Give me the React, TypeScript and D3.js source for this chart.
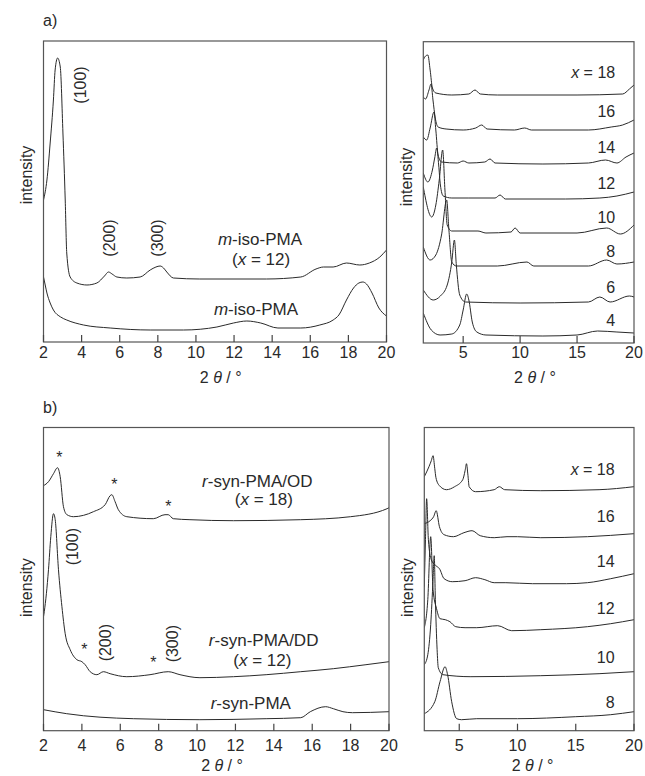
import React from "react"
import * as d3 from "d3"

type Pt = [number, number]

// ---- panel a) left : m-iso-PMA ----
const isoX12Curve: Pt[] = [
	[2.0, 142], [2.18, 162], [2.35, 199], [2.52, 242], [2.61, 272], [2.74, 284],
	[2.88, 275], [3.02, 209], [3.14, 142], [3.22, 89], [3.4, 65], [3.75, 59],
	[4.28, 57], [4.8, 59], [5.2, 66], [5.41, 70], [5.6, 68], [5.85, 65], [6.37, 64],
	[7.07, 65], [7.6, 72], [7.9, 75], [8.12, 76], [8.3, 74], [8.47, 70], [8.82, 64],
	[10.2, 63], [13.7, 63], [15.5, 65], [16.3, 73], [16.7, 75], [17.2, 75],
	[17.9, 79], [18.6, 77], [19.1, 79], [19.65, 85], [20, 92],
]
const isoCurve: Pt[] = [
	[2.0, 65], [2.09, 57], [2.18, 49], [2.35, 39], [2.52, 32], [2.9, 25], [3.22, 22],
	[4.1, 17], [5.5, 14], [7.6, 12], [9.35, 12], [11.1, 15], [11.97, 19], [12.67, 21],
	[13.4, 19], [14.3, 14], [15.5, 14], [16.5, 17], [17.2, 22], [17.5, 27], [17.9, 42],
	[18.27, 54], [18.55, 59], [18.76, 60], [18.95, 58], [19.24, 49], [19.6, 34], [20, 26],
]

// ---- panel a) right : x = 18 ... 4 ----
const aX18: Pt[] = [
	[1.5, 283], [1.7, 287], [1.9, 288], [2.1, 273], [2.3, 255], [2.6, 250], [4.0, 248],
	[5.5, 249], [6.04, 253], [6.5, 249], [8, 248], [15, 248], [19.0, 249], [19.6, 254], [20, 258],
]
const aX16: Pt[] = [
	[1.5, 246], [1.7, 244], [2.0, 253], [2.18, 259], [2.35, 243], [2.55, 225], [2.8, 216],
	[3.5, 214], [5, 213], [6.1, 215], [6.63, 218], [7.1, 214], [9.5, 213], [10.4, 215],
	[11, 213], [16, 213], [18, 216], [19, 218], [20, 223],
]
const aX14: Pt[] = [
	[1.5, 206], [1.8, 203], [2.1, 215], [2.44, 231], [2.6, 213], [2.8, 188], [3.1, 181],
	[4.5, 180], [5.0, 182], [5.5, 180], [6.9, 181], [7.36, 184], [7.8, 180], [12, 179],
	[16, 180], [17.5, 183], [18.5, 180], [19.3, 186], [20, 190],
]
const aX12: Pt[] = [
	[1.5, 170], [1.9, 161], [2.3, 173], [2.5, 185], [2.68, 195], [2.85, 178], [3.0, 158],
	[3.25, 147], [4, 145], [5.5, 145], [7.8, 145], [8.24, 148], [8.7, 144], [14, 144],
	[17, 145], [18.5, 147], [20, 151],
]
const aX10: Pt[] = [
	[1.5, 156], [2.24, 126], [2.6, 138], [2.9, 163], [3.2, 193], [3.4, 153], [3.6, 118],
	[4.0, 112], [6.3, 112], [7, 110], [9.2, 111], [9.56, 115], [10, 110], [15, 110],
	[17.6, 115], [18.8, 109], [20, 118],
]
const aX8: Pt[] = [
	[1.5, 96], [2.1, 83], [2.6, 88], [3.1, 108], [3.55, 143], [3.75, 113], [4.0, 81],
	[4.4, 77], [8, 77], [10.6, 81], [11.2, 77], [16, 77], [17.6, 83], [18.5, 79], [20, 81],
]
const aX6: Pt[] = [
	[1.5, 53], [2.37, 43], [3.0, 47], [3.6, 58], [4.0, 81], [4.23, 103], [4.4, 78],
	[4.7, 48], [5.2, 41], [10, 40], [16, 41], [17, 46], [17.9, 41], [19.6, 47], [20, 46],
]
const aX4: Pt[] = [
	[1.5, 30], [2.2, 13], [2.97, 8], [4.0, 9], [4.7, 18], [5.0, 33], [5.31, 49], [5.5, 43],
	[5.8, 21], [6.2, 11], [7, 8], [12, 7], [15, 8], [16.8, 12], [18.5, 11], [20, 10],
]
const aRightLabels = ["x = 18", "16", "14", "12", "10", "8", "6", "4"]
const aRightLabelY = [265, 226, 190, 154, 120, 86, 50, 17]

// ---- panel b) left : r-syn-PMA ----
const odCurve: Pt[] = [
	[2.0, 245], [2.26, 249], [2.52, 257], [2.73, 263], [2.87, 254], [3.04, 224],
	[3.22, 216], [3.56, 214], [4.6, 219], [5.21, 226], [5.47, 235], [5.56, 236],
	[5.73, 229], [5.9, 221], [6.34, 214], [7.72, 212], [8.33, 216], [8.5, 216],
	[8.76, 212], [9.63, 211], [11.9, 210], [15.4, 211], [18, 214], [19.9, 222], [20, 223],
]
const ddCurve: Pt[] = [
	[2.0, 114], [2.04, 119], [2.26, 161], [2.38, 194], [2.52, 217], [2.61, 211],
	[2.78, 161], [2.96, 124], [3.13, 97], [3.39, 81], [3.74, 71], [4.0, 69], [4.17, 66],
	[4.43, 59], [4.78, 56], [5.12, 59], [5.47, 57], [6.34, 54], [7.55, 56], [8.5, 59],
	[9.11, 56], [10.15, 53], [11.9, 54], [13.6, 56], [15.4, 59], [17.1, 62], [18.8, 66], [20, 69],
]
const synCurve: Pt[] = [
	[2, 21], [3.21, 17], [6.68, 12], [10.15, 11], [13.6, 12], [15.4, 13], [15.9, 19],
	[16.7, 24], [17.1, 22], [17.6, 19], [18.1, 18], [20, 19],
]

// ---- panel b) right : x = 18 ... 8 ----
const bX18: Pt[] = [
	[2.0, 254], [2.4, 264], [2.6, 270], [2.75, 275], [2.9, 262], [3.0, 253], [3.3, 245],
	[3.9, 241], [4.6, 244], [5.3, 251], [5.5, 260], [5.62, 267], [5.75, 255], [5.85, 244],
	[6.4, 239], [8.0, 241], [8.44, 244], [8.9, 241], [12, 240], [17, 241], [20, 244],
]
const bX16: Pt[] = [
	[2.0, 207], [2.5, 210], [2.8, 214], [3.02, 220], [3.3, 204], [3.7, 196], [4.5, 194],
	[5.4, 198], [6.1, 200], [6.8, 195], [8, 193], [9.1, 194], [10, 194], [12, 193],
	[16, 194], [20, 197],
]
const bX14: Pt[] = [
	[2.0, 144], [2.1, 191], [2.2, 232], [2.35, 191], [2.6, 171], [3.0, 165], [3.3, 162],
	[3.7, 152], [4.4, 149], [5.5, 150], [6.4, 153], [7.2, 151], [8.0, 148], [9.0, 148],
	[11.3, 147], [14.2, 147], [16, 148], [18, 152], [20, 157],
]
const bX12: Pt[] = [
	[2.0, 103], [2.3, 131], [2.55, 194], [2.75, 141], [3.05, 122], [3.35, 112], [3.8, 111],
	[4.2, 109], [4.7, 104], [5.5, 103], [6.5, 103], [8.3, 105], [9.5, 100], [12, 101],
	[16, 104], [18, 107], [20, 111],
]
const bX10: Pt[] = [
	[2.0, 66], [2.3, 76], [2.55, 106], [2.75, 151], [2.85, 175], [2.95, 131], [3.1, 81],
	[3.2, 63], [3.6, 56], [6, 54], [12, 55], [17, 57], [20, 59],
]
const bX8: Pt[] = [
	[2.0, 17], [2.9, 29], [3.35, 49], [3.78, 64], [4.0, 56], [4.35, 29], [4.78, 12],
	[5.2, 11], [6.5, 12], [10, 12], [15, 14], [18, 16], [20, 19],
]
const bRightLabels = ["x = 18", "16", "14", "12", "10", "8"]
const bRightLabelY = [256, 209, 164, 117, 68, 23]

const leftTicks = [2, 4, 6, 8, 10, 12, 14, 16, 18, 20]
const rightTicks = [5, 10, 15, 20]

const FONT = "'Liberation Sans', Arial, Helvetica, sans-serif"
const INK = "#2a2a2a"

type Note = {
	x: number
	y: number
	text: React.ReactNode
	rotate?: boolean
	anchor?: string
	size?: number
}

type Geom = { left: number; right: number; top: number; bottom: number }

function Panel({
	g,
	xDomain,
	ticks,
	tickLen,
	tickDy,
	titleDy,
	curves,
	notes,
	intensityY,
}: {
	g: Geom
	xDomain: [number, number]
	ticks: number[]
	tickLen: number
	tickDy: number
	titleDy: number
	curves: Pt[][]
	notes: Note[]
	intensityY: number
}) {
	const x = d3.scaleLinear().domain(xDomain).range([g.left, g.right])
	const y = d3
		.scaleLinear()
		.domain([0, g.bottom - g.top])
		.range([g.bottom, g.top])
	const line = d3
		.line<Pt>()
		.x((d) => x(d[0]))
		.y((d) => y(d[1]))
		.curve(d3.curveMonotoneX)

	return (
		<g fontFamily={FONT} fill={INK}>
			<defs>
				<clipPath id={`clip-${g.left}-${g.top}`}>
					<rect x={g.left} y={g.top} width={g.right - g.left} height={g.bottom - g.top} />
				</clipPath>
			</defs>
			<g clipPath={`url(#clip-${g.left}-${g.top})`}>
				{curves.map((c, i) => (
					<path key={i} d={line(c) || ""} fill="none" stroke={INK} strokeWidth={1} />
				))}
			</g>
			<rect
				x={g.left}
				y={g.top}
				width={g.right - g.left}
				height={g.bottom - g.top}
				fill="none"
				stroke="#555"
				strokeWidth={1.2}
			/>
			{ticks.map((t) => (
				<g key={t}>
					<line x1={x(t)} x2={x(t)} y1={g.bottom} y2={g.bottom - tickLen} stroke="#444" strokeWidth={1.2} />
					<text x={x(t)} y={g.bottom + tickDy} textAnchor="middle" fontSize={16}>
						{t}
					</text>
				</g>
			))}
			<text x={x(11.3)} y={g.bottom + titleDy} textAnchor="middle" fontSize={16} style={{ whiteSpace: "pre" }}>
				<tspan>{"2 "}</tspan>
				<tspan fontStyle="italic">θ</tspan>
				<tspan>{" / °"}</tspan>
			</text>
			<text
				transform={`translate(${g.left - 17},${y(intensityY)}) rotate(-90)`}
				textAnchor="middle"
				dominantBaseline="central"
				fontSize={16}
			>
				intensity
			</text>
			{notes.map((n, i) =>
				n.rotate ? (
					<text
						key={i}
						transform={`translate(${x(n.x)},${y(n.y)}) rotate(-90)`}
						textAnchor="middle"
						dominantBaseline="central"
						fontSize={n.size || 16}
					>
						{n.text}
					</text>
				) : (
					<text
						key={i}
						x={x(n.x)}
						y={y(n.y)}
						textAnchor={n.anchor || "middle"}
						fontSize={n.size || 16}
						style={{ whiteSpace: "pre" }}
					>
						{n.text}
					</text>
				)
			)}
		</g>
	)
}

const it = (s: string) => <tspan fontStyle="italic">{s}</tspan>

const xLabel = (s: string) =>
	s.startsWith("x") ? (
		<>
			{it("x")}
			{s.slice(1)}
		</>
	) : (
		s
	)

export default function App() {
	const aLeft: Geom = { left: 43.5, right: 386.5, top: 41, bottom: 342 }
	const aRight: Geom = { left: 423.3, right: 634, top: 41.7, bottom: 343 }
	const bLeft: Geom = { left: 43.5, right: 389, top: 427.5, bottom: 730.7 }
	const bRight: Geom = { left: 424.3, right: 634, top: 427.5, bottom: 730.7 }

	const aLeftNotes: Note[] = [
		{ x: 3.92, y: 257, text: "(100)", rotate: true },
		{ x: 5.47, y: 104, text: "(200)", rotate: true },
		{ x: 7.99, y: 104, text: "(300)", rotate: true },
		{ x: 13.36, y: 97, text: <>{it("m")}-iso-PMA</>, size: 17 },
		{ x: 13.42, y: 77, text: <>({it("x")} = 12)</>, size: 17 },
		{ x: 13.15, y: 27, text: <>{it("m")}-iso-PMA</>, size: 17 },
	]
	const bLeftNotes: Note[] = [
		{ x: 2.83, y: 268, text: "*" },
		{ x: 5.69, y: 241, text: "*" },
		{ x: 8.5, y: 219, text: "*" },
		{ x: 4.13, y: 76, text: "*" },
		{ x: 7.72, y: 63, text: "*" },
		{ x: 3.52, y: 184, text: "(100)", rotate: true },
		{ x: 5.25, y: 88, text: "(200)", rotate: true },
		{ x: 8.72, y: 87, text: "(300)", rotate: true },
		{ x: 13.14, y: 244, text: <>{it("r")}-syn-PMA/OD</>, size: 17 },
		{ x: 13.48, y: 226, text: <>({it("x")} = 18)</>, size: 17 },
		{ x: 13.47, y: 85, text: <>{it("r")}-syn-PMA/DD</>, size: 17 },
		{ x: 13.4, y: 65, text: <>({it("x")} = 12)</>, size: 17 },
		{ x: 12.8, y: 22, text: <>{it("r")}-syn-PMA</>, size: 17 },
	]
	const aRightNotes: Note[] = aRightLabels.map((l, i) => ({
		x: 18.35,
		y: aRightLabelY[i],
		text: xLabel(l),
		anchor: "end",
	}))
	const bRightNotes: Note[] = bRightLabels.map((l, i) => ({
		x: 18.34,
		y: bRightLabelY[i],
		text: xLabel(l),
		anchor: "end",
	}))

	return (
		<svg
			width={645}
			height={776}
			style={{ position: "absolute", left: 0, top: 0, background: "#fff" }}
		>
			<rect width={645} height={776} fill="#fff" />
			<text x={43} y={26} fontFamily={FONT} fontSize={16} fill={INK}>
				a)
			</text>
			<text x={43} y={413} fontFamily={FONT} fontSize={16} fill={INK}>
				b)
			</text>
			<Panel
				g={aLeft}
				xDomain={[2, 20]}
				ticks={leftTicks}
				tickLen={7}
				tickDy={16}
				titleDy={41}
				curves={[isoX12Curve, isoCurve]}
				notes={aLeftNotes}
				intensityY={167}
			/>
			<Panel
				g={aRight}
				xDomain={[1.5, 20]}
				ticks={rightTicks}
				tickLen={7}
				tickDy={15}
				titleDy={40}
				curves={[aX18, aX16, aX14, aX12, aX10, aX8, aX6, aX4]}
				notes={aRightNotes}
				intensityY={166}
			/>
			<Panel
				g={bLeft}
				xDomain={[2, 20]}
				ticks={leftTicks}
				tickLen={7}
				tickDy={20}
				titleDy={40}
				curves={[odCurve, ddCurve, synCurve]}
				notes={bLeftNotes}
				intensityY={143}
			/>
			<Panel
				g={bRight}
				xDomain={[2, 20]}
				ticks={rightTicks}
				tickLen={7}
				tickDy={20}
				titleDy={40}
				curves={[bX18, bX16, bX14, bX12, bX10, bX8]}
				notes={bRightNotes}
				intensityY={143}
			/>
		</svg>
	)
}
